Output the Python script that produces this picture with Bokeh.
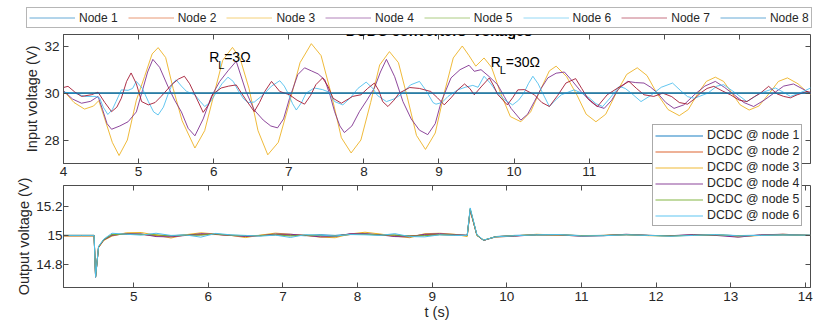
from bokeh.plotting import figure
from bokeh.models import (Legend, LegendItem, LinearAxis, FixedTicker, Label, Range1d,
                          NumeralTickFormatter)
from bokeh.layouts import column, row
from bokeh.embed import file_html
from bokeh.resources import INLINE

# ---------------- data: top panel (input voltages) ----------------
node_labels = ["Node 1", "Node 2", "Node 3", "Node 4", "Node 5", "Node 6", "Node 7", "Node 8"]
flat_t = [4.0, 14.0]
flat_v = [30.0, 30.0]

t3 = [4.00,4.14,4.28,4.40,4.47,4.55,4.65,4.74,4.85,4.97,5.08,5.18,5.26,5.36,5.46,5.58,5.75,5.88,6.00,6.12,
      6.25,6.35,6.47,6.59,6.72,6.86,7.01,7.15,7.30,7.43,7.57,7.70,7.83,7.96,8.09,8.21,8.34,8.46,8.58,8.70,
      8.82,8.95,9.07,9.19,9.31,9.40,9.49,9.60,9.70,9.82,9.95,10.09,10.22,10.36,10.47,10.56,10.70,10.84,10.96,11.09,
      11.22,11.36,11.50,11.64,11.77,11.90,12.05,12.20,12.32,12.44,12.56,12.68,12.79,12.90,13.01,13.13,13.26,13.40,13.52,13.64,
      13.78,13.90,14.00]
v3 = [30.10,29.60,29.32,29.45,29.68,28.90,27.90,27.34,28.00,29.70,30.71,31.67,31.94,31.52,30.20,28.82,27.66,28.40,29.90,31.40,
      31.95,31.50,30.20,28.40,27.37,27.90,29.60,31.30,32.11,31.60,29.90,28.10,27.45,28.00,29.60,31.20,31.77,31.30,29.80,28.20,
      27.60,28.30,30.00,31.50,32.01,31.60,31.15,31.50,31.10,30.00,29.00,28.78,29.20,30.20,30.95,31.15,30.70,29.90,29.10,28.78,
      29.10,30.00,30.80,31.08,30.75,30.00,29.30,29.04,29.30,29.95,30.50,30.68,30.50,30.00,29.50,29.28,29.45,30.00,30.50,30.65,
      30.40,30.05,29.85]

t4 = [4.00,4.12,4.24,4.36,4.46,4.52,4.58,4.64,4.75,4.86,4.97,5.05,5.12,5.19,5.28,5.39,5.48,5.57,5.66,5.75,
      5.86,5.97,6.08,6.19,6.30,6.43,6.54,6.66,6.76,6.85,6.93,7.01,7.12,7.21,7.30,7.39,7.48,7.55,7.61,7.68,
      7.74,7.84,7.94,8.04,8.14,8.22,8.30,8.41,8.52,8.63,8.74,8.85,8.95,9.03,9.16,9.28,9.40,9.47,9.56,9.67,
      9.78,9.87,9.96,10.09,10.18,10.27,10.36,10.45,10.56,10.67,10.78,10.89,11.02,11.10,11.20,11.30,11.38,11.51,11.62,11.73,
      11.82,11.91,12.02,12.13,12.26,12.40,12.54,12.68,12.80,12.93,13.06,13.19,13.33,13.46,13.59,13.72,13.86,14.00]
v4 = [30.10,29.75,29.57,29.65,29.86,29.30,28.70,28.46,28.60,28.78,29.20,30.10,30.90,31.44,31.10,30.29,29.70,29.20,28.50,28.18,
      28.90,29.86,30.50,30.95,31.36,30.07,29.28,28.85,28.60,28.52,28.90,29.78,30.79,31.08,30.95,30.82,30.57,29.90,29.21,28.60,
      28.32,28.60,29.21,29.70,30.22,30.90,31.44,30.70,29.64,28.90,28.42,28.23,28.70,29.64,30.65,31.00,31.19,30.93,31.00,30.70,
      30.36,29.85,29.35,28.85,29.10,29.64,30.20,30.65,30.85,30.90,30.50,30.07,29.64,29.45,29.35,29.70,30.14,30.50,30.45,30.43,
      30.25,30.00,29.60,29.35,29.50,29.93,30.30,30.50,30.25,29.93,29.60,29.43,29.70,30.00,30.30,30.39,30.15,29.86]

t6 = [4.00,4.15,4.28,4.42,4.48,4.53,4.59,4.65,4.70,4.77,4.86,4.92,4.97,5.05,5.13,5.20,5.26,5.33,5.39,5.45,
      5.50,5.57,5.64,5.75,5.82,5.88,5.95,6.03,6.11,6.19,6.26,6.32,6.40,6.46,6.54,6.66,6.77,6.88,6.94,6.99,
      7.05,7.10,7.17,7.23,7.34,7.45,7.53,7.61,7.72,7.82,7.92,8.03,8.12,8.18,8.30,8.40,8.50,8.62,8.74,8.83,
      8.92,8.96,9.04,9.12,9.25,9.35,9.45,9.52,9.60,9.69,9.78,9.88,9.98,10.06,10.13,10.19,10.25,10.32,10.38,10.47,
      10.55,10.63,10.80,10.90,11.00,11.09,11.18,11.28,11.33,11.40,11.48,11.56,11.69,11.82,11.96,12.11,12.22,12.31,12.40,12.58,
      12.70,12.79,12.95,13.10,13.28,13.48,13.58,13.68,13.80,13.95,14.00]
v6 = [30.04,30.00,29.86,29.86,29.80,29.40,29.09,29.30,29.64,30.14,30.12,30.20,30.50,30.20,29.64,29.20,29.07,29.40,29.93,30.40,
      30.57,30.30,30.07,29.93,29.65,29.43,29.60,30.00,30.40,30.68,30.50,30.14,29.75,29.60,29.62,29.93,30.30,30.53,30.30,30.00,
      29.55,29.28,29.60,30.00,30.22,30.15,30.05,29.64,29.50,29.80,30.20,30.47,30.20,29.90,29.64,29.75,29.95,30.35,30.50,30.10,
      29.60,29.53,29.60,29.86,30.14,30.25,30.33,30.25,30.72,30.40,30.00,29.70,29.50,29.70,30.00,30.40,30.72,30.40,30.00,29.43,
      29.70,29.93,30.14,30.00,29.80,29.55,29.43,29.80,30.00,30.29,30.20,30.00,29.64,29.90,30.25,30.43,30.10,29.85,29.78,30.00,
      30.30,30.36,30.00,29.64,30.00,30.22,30.05,29.86,30.00,30.22,30.18]

t7 = [4.00,4.06,4.15,4.24,4.37,4.46,4.55,4.64,4.71,4.77,4.84,4.90,4.97,5.04,5.13,5.22,5.30,5.44,5.53,5.61,
      5.68,5.75,5.86,5.93,5.99,6.10,6.20,6.30,6.37,6.43,6.54,6.61,6.68,6.77,6.88,7.01,7.11,7.21,7.29,7.36,
      7.45,7.52,7.59,7.70,7.85,7.96,8.05,8.14,8.20,8.25,8.32,8.40,8.47,8.61,8.74,8.89,8.98,9.07,9.16,9.25,
      9.34,9.41,9.47,9.57,9.67,9.73,9.78,9.91,9.98,10.05,10.14,10.27,10.37,10.47,10.58,10.69,10.82,10.90,10.98,11.11,
      11.24,11.38,11.53,11.63,11.73,11.86,11.98,12.10,12.20,12.31,12.40,12.48,12.57,12.66,12.77,12.88,13.00,13.10,13.20,13.28,
      13.39,13.50,13.59,13.68,13.77,13.90,14.00]
v7 = [30.24,30.29,30.05,29.86,29.93,30.04,29.60,29.21,29.40,29.78,30.50,30.86,30.40,29.64,29.50,29.60,29.86,30.36,30.60,30.72,
      30.40,29.93,29.18,29.50,29.96,30.22,30.30,30.35,30.00,29.71,29.21,29.60,30.07,30.50,30.07,29.93,29.70,29.53,29.90,30.36,
      30.65,30.30,29.78,29.57,29.86,29.93,30.20,30.43,30.10,29.64,29.43,29.70,30.00,30.24,30.20,30.07,29.80,29.50,29.80,30.14,
      30.39,30.20,29.93,30.30,30.65,30.30,29.95,29.50,29.80,30.14,30.15,29.93,29.60,29.43,29.90,30.43,30.62,30.20,29.78,29.43,
      29.93,30.22,30.50,30.20,29.93,29.86,30.00,29.85,29.60,29.53,29.75,30.00,30.20,30.29,30.10,29.93,29.70,29.64,29.85,30.00,
      30.29,29.97,29.86,29.80,29.93,30.07,30.00]

top_xticks = [4, 5, 6, 7, 8, 9, 10, 11, 12, 13]
top_yticks = [28, 30, 32]

# ---------------- data: bottom panel (output voltages) ----------------
dcdc_labels = ["DCDC @ node 1", "DCDC @ node 2", "DCDC @ node 3",
               "DCDC @ node 4", "DCDC @ node 5", "DCDC @ node 6"]
bt = [4.06,4.30,4.47,4.49,4.53,4.60,4.71,4.90,5.10,5.30,5.50,5.70,5.90,6.10,6.30,6.50,6.70,6.90,7.10,7.30,
      7.50,7.70,7.90,8.10,8.30,8.50,8.70,8.90,9.10,9.30,9.47,9.51,9.60,9.69,9.85,10.10,10.40,10.70,11.00,11.30,
      11.60,11.90,12.20,12.50,12.80,13.10,13.40,13.70,14.07]
o1 = [15.000,15.000,15.000,14.710,14.920,14.970,15.005,15.010,15.008,15.000,
      14.998,15.003,15.005,15.008,15.000,14.998,15.000,15.005,15.002,14.998,
      15.004,15.000,15.008,15.010,15.005,15.000,14.997,15.002,15.006,15.004,
      15.000,15.180,15.000,14.965,14.992,15.000,15.003,15.004,14.999,15.000,
      15.006,15.000,14.998,15.002,15.003,14.999,15.001,15.004,15.000]
o2 = [15.000,15.000,15.000,14.712,14.920,14.970,15.004,15.008,15.006,15.000,
      14.996,15.002,15.006,15.006,15.000,14.996,15.000,15.006,15.004,15.000,
      14.996,14.996,15.006,15.008,15.004,14.996,14.996,15.004,15.006,15.004,
      15.000,15.178,15.000,14.966,14.991,14.998,15.004,15.003,14.998,15.000,
      15.004,15.000,14.998,15.002,15.002,14.996,15.001,15.004,15.000]
o3 = [14.995,14.995,14.995,14.720,14.915,14.965,14.995,15.018,15.020,15.002,
      14.982,15.005,15.018,15.010,15.000,14.985,15.002,15.016,15.008,15.000,
      14.988,14.984,15.010,15.022,15.010,14.995,14.984,15.012,15.015,15.008,
      14.992,15.170,15.000,14.968,14.988,14.996,15.008,15.002,14.996,15.000,
      15.006,14.998,14.996,15.002,15.006,14.990,15.000,15.008,15.000]
o4 = [14.998,14.998,14.998,14.718,14.918,14.968,15.000,15.012,15.010,14.992,
      14.990,15.000,15.012,15.008,15.000,14.992,14.998,15.010,15.008,15.000,
      14.990,14.992,15.012,15.012,15.004,14.992,14.990,15.008,15.012,15.006,
      15.000,15.175,15.002,14.966,14.990,14.994,15.006,15.004,14.994,14.998,
      15.008,15.000,14.998,15.006,15.000,14.988,15.004,15.008,15.000]
o5 = [15.000,15.000,15.000,14.714,14.922,14.972,15.006,15.009,15.007,15.004,
      14.998,15.002,15.002,15.010,15.002,14.998,14.998,15.004,14.996,15.002,
      15.000,14.996,15.006,15.008,15.002,15.004,14.994,14.998,15.005,15.002,
      15.000,15.185,15.002,14.967,14.991,14.998,15.004,15.005,14.998,14.999,
      15.005,15.000,14.996,15.001,15.004,14.998,15.000,15.004,15.001]
o6 = [15.000,15.000,15.000,14.715,14.925,14.975,15.015,15.008,15.002,15.015,
      15.000,15.003,14.988,15.014,15.004,15.000,14.995,15.002,14.986,15.005,
      15.002,14.996,15.006,15.004,15.000,15.012,14.992,14.990,15.004,15.000,
      15.000,15.190,15.005,14.968,14.990,14.998,15.004,15.006,14.996,14.998,
      15.004,15.000,14.994,15.000,15.006,14.997,15.000,15.003,15.002]

bot_xticks = [5, 6, 7, 8, 9, 10, 11, 12, 13, 14]
bot_yticks = [14.8, 15.0, 15.2]

# ---------------- styling ----------------
FONT = "Liberation Sans"
AX = "#4d4d4d"
TXT = "#262626"
node_colors = ["#0072BD", "#D95319", "#EDB120", "#7E2F8E", "#77AC30", "#4DBEEE", "#A2142F", "#0072BD"]
top_widths = [1.2, 0.5, 1.0, 1.0, 0.5, 1.0, 1.0, 1.2]
LW = 1.0


def style_main_axis(ax, ticks, standoff):
    ax.ticker = FixedTicker(ticks=ticks)
    ax.major_tick_in = 5
    ax.major_tick_out = 0
    ax.minor_tick_line_color = None
    ax.major_tick_line_color = AX
    ax.axis_line_color = AX
    ax.major_label_text_font = FONT
    ax.major_label_text_font_size = "13.5px"
    ax.major_label_text_color = TXT
    ax.major_label_standoff = standoff
    ax.axis_label_text_font = FONT
    ax.axis_label_text_font_size = "14.5px"
    ax.axis_label_text_font_style = "normal"
    ax.axis_label_text_color = TXT
    ax.axis_label_standoff = 1


def mirror_axis(ticks):
    return LinearAxis(ticker=FixedTicker(ticks=ticks), major_tick_in=5, major_tick_out=0,
                      minor_tick_line_color=None, major_tick_line_color=AX, axis_line_color=None,
                      major_label_text_font_size="0px", major_label_text_color=None,
                      major_label_standoff=0)


def bare_figure(w, h):
    f = figure(width=w, height=h, x_range=Range1d(0, 1), y_range=Range1d(0, 1),
               output_backend="svg", toolbar_location=None,
               x_axis_location=None, y_axis_location=None,
               min_border_left=0, min_border_right=0, min_border_top=0, min_border_bottom=0)
    f.grid.visible = False
    f.outline_line_color = None
    f.background_fill_color = None
    f.border_fill_color = None
    return f


# ---------------- top figure ----------------
p1 = figure(width=822, height=185, x_range=Range1d(4, 13.947), y_range=Range1d(27, 32.5),
            output_backend="svg", toolbar_location=None,
            min_border_left=63, min_border_right=12, min_border_top=34, min_border_bottom=22)
p1.grid.visible = False
p1.outline_line_color = AX
p1.background_fill_color = "white"
p1.border_fill_color = "white"
style_main_axis(p1.xaxis[0], top_xticks, 3)
style_main_axis(p1.yaxis[0], top_yticks, 4)
p1.yaxis[0].axis_label = "Input voltage (V)"
p1.add_layout(mirror_axis(top_xticks), "above")
p1.add_layout(mirror_axis(top_yticks), "right")

top_series = [(flat_t, flat_v), (flat_t, flat_v), (t3, v3), (t4, v4),
              (flat_t, flat_v), (t6, v6), (t7, v7), (flat_t, flat_v)]
for color, lw, (tx, vy) in zip(node_colors, top_widths, top_series):
    p1.line(tx, vy, line_color=color, line_width=lw, line_alpha=0.88)

# title (mostly hidden by the legend, as in the original)
p1.add_layout(Label(x=9.0, y=32.64, text="DCDC converters' voltages", text_align="center",
                    text_baseline="alphabetic", text_font=FONT, text_font_size="14.5px",
                    text_font_style="bold", text_color="#000000"))

# load annotations R_L = 3 Ohm, R_L = 30 Ohm
for (tx, vy, vsub, rest) in [(5.94, 31.52, 31.18, "=3\u03a9"), (9.69, 31.32, 30.99, "=30\u03a9")]:
    p1.add_layout(Label(x=tx, y=vy, text="R", text_font=FONT, text_font_size="14px",
                        text_color="#000000", text_baseline="alphabetic"))
    p1.add_layout(Label(x=tx, y=vsub, x_offset=9, text="L", text_font=FONT, text_font_size="11px",
                        text_color="#000000", text_baseline="alphabetic"))
    p1.add_layout(Label(x=tx, y=vy, x_offset=15, text=rest, text_font=FONT, text_font_size="14px",
                        text_color="#000000", text_baseline="alphabetic"))

# ---------------- bottom figure ----------------
p2 = figure(width=822, height=204, x_range=Range1d(4.06, 14.07), y_range=Range1d(14.64, 15.345),
            output_backend="svg", toolbar_location=None,
            min_border_left=63, min_border_right=12, min_border_top=65, min_border_bottom=37)
p2.grid.visible = False
p2.outline_line_color = AX
p2.background_fill_color = "white"
p2.border_fill_color = None
style_main_axis(p2.xaxis[0], bot_xticks, 4)
style_main_axis(p2.yaxis[0], bot_yticks, 1)
p2.xaxis[0].axis_label = "t (s)"
p2.xaxis[0].axis_label_standoff = 0
p2.yaxis[0].formatter = NumeralTickFormatter(format="0.[0]")
p2.yaxis[0].axis_label = "Output voltage (V)"
p2.add_layout(mirror_axis(bot_xticks), "above")
p2.add_layout(mirror_axis(bot_yticks), "right")

bot_vals = [o1, o2, o3, o4, o5, o6]
for color, vals in zip(node_colors[:6], bot_vals):
    p2.line(bt, vals, line_color=color, line_width=LW)

# ---------------- legend overlays (own small canvases, laid over the panels) ----------------
# (their renderers hold the same series, outside the 0..1 view, so only the legend shows)
p0 = bare_figure(792, 23)
items0 = []
for name, color, (tx, vy) in zip(node_labels, node_colors, top_series):
    r = p0.line(tx, vy, line_color=color, line_width=1.0, line_alpha=0.6)
    items0.append(LegendItem(label=name, renderers=[r]))
p0.add_layout(Legend(items=items0, orientation="horizontal", location=(2, 2),
                     padding=2, margin=0, spacing=10, glyph_width=46, glyph_height=15,
                     label_height=15, label_standoff=4, label_text_font=FONT,
                     label_text_font_size="12px", label_text_color=TXT,
                     border_line_color="#6e6e6e", border_line_width=1,
                     background_fill_color="white", background_fill_alpha=1.0))

p3 = bare_figure(156, 104)
items3 = []
for name, color, vals in zip(dcdc_labels, node_colors[:6], bot_vals):
    r = p3.line(bt, vals, line_color=color, line_width=1.1, line_alpha=0.9)
    items3.append(LegendItem(label=name, renderers=[r]))
p3.add_layout(Legend(items=items3, orientation="vertical", location=(2, 2),
                     padding=2, margin=0, spacing=0, glyph_width=48, glyph_height=15,
                     label_height=16, label_standoff=4, label_text_font=FONT,
                     label_text_font_size="12.3px", label_text_color=TXT,
                     border_line_color="#555555", border_line_width=1,
                     background_fill_color="white", background_fill_alpha=1.0))

# wrap the overlays so they are not frame-aligned with the two panels
r0 = row(p0)
r3 = row(p3)

# stacking: p1 (0..185), p2 (120..324), legend 1 (7..30), legend 2 (124..228)
p1.styles = {"position": "relative", "z-index": "0"}
p2.styles = {"position": "relative", "z-index": "1"}
r0.styles = {"position": "relative", "z-index": "2"}
r3.styles = {"position": "relative", "z-index": "3"}
p2.margin = (-65, 0, 0, 0)
r0.margin = (-317, 0, 0, 24)
r3.margin = (94, 0, 0, 650)

layout = column(p1, p2, r0, r3, spacing=0)
open("out.html", "w").write(file_html(layout, INLINE))
